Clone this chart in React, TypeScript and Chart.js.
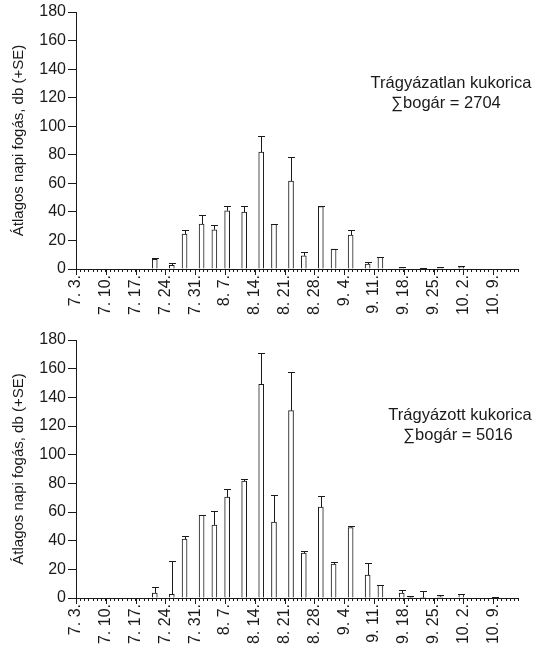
import React, { useEffect, useRef } from 'react';
import { Chart, registerables } from 'chart.js';
Chart.register(...registerables);

// Days counted from 7. 3. (day 0). Axis runs to day 104.
const tickDays = [0, 7, 14, 21, 28, 35, 42, 49, 56, 63, 70, 77, 84, 91, 98];
const tickLabels = ['7. 3.', '7. 10.', '7. 17.', '7. 24.', '7. 31.', '8. 7.', '8. 14.', '8. 21.', '8. 28.', '9. 4.', '9. 11.', '9. 18.', '9. 25.', '10. 2.', '10. 9.'];
const axisMaxDay = 104;
const yMax = 180;
const yStep = 20;
const yTitle = 'Átlagos napi fogás, db (+SE)';

// Trágyázatlan kukorica (top)
const topDays = [18, 22, 25, 29, 32, 35, 39, 43, 46, 50, 53, 57, 60, 64, 68, 71, 76, 81, 85, 90];
const topMeans = [6.8, 2.5, 24.5, 31.5, 27.5, 40.8, 39.9, 81.9, 31.2, 61.6, 9.3, 43.8, 14, 23.8, 3.5, 8.1, 1.1, 0.5, 1.0, 1.6];
const topSE = [0.7, 1.4, 2.8, 6.0, 3.0, 3.0, 3.9, 11.2, 0.3, 16.8, 2.6, 0.4, 0.3, 3.5, 1.1, 0.2, 0.3, 0.2, 0.2, 0.4];
const topName = 'Trágyázatlan kukorica';
const topSum = '∑bogár = 2704';

// Trágyázott kukorica (bottom)
const bottomDays = [18, 22, 25, 29, 32, 35, 39, 43, 46, 50, 53, 57, 60, 64, 68, 71, 76, 78, 81, 85, 90, 98];
const bottomMeans = [3.5, 2.5, 41.1, 57.6, 50.9, 70.4, 81.5, 149.1, 53, 130.7, 31.4, 63.4, 23.7, 49.2, 16.0, 8.8, 3.5, 0.5, 0.3, 0.9, 2.5, 0.5];
const bottomSE = [3.9, 23.3, 2.5, 0.4, 9.5, 5.3, 1.2, 21.6, 18.8, 27.2, 1.4, 7.7, 1.1, 0.7, 8.1, 0.2, 1.8, 0.9, 4.3, 0.9, 0.2, 0.2];
const bottomName = 'Trágyázott kukorica';
const bottomSum = '∑bogár = 5016';

const FONT = '"Liberation Sans", Arial, Helvetica, sans-serif';
const INK = '#1a1a1a';
Chart.defaults.font.family = FONT;

type PanelProps = {
  days: number[];
  means: number[];
  se: number[];
  name: string;
  sum: string;
  padTop: number;
  xHeight: number;
  nameX: number;
  nameY: number;
  sumX: number;
  sumY: number;
  top: number;
};

function Panel(p: PanelProps) {
  const ref = useRef<HTMLCanvasElement | null>(null);
  useEffect(() => {
    if (!ref.current) return;
    const errorBars = {
      id: 'errorBars',
      afterDatasetsDraw(chart: any) {
        const ctx = chart.ctx;
        const xs = chart.scales.x;
        const ys = chart.scales.y;
        ctx.save();
        ctx.strokeStyle = INK;
        ctx.lineWidth = 1;
        p.days.forEach((d, i) => {
          const x = Math.round(xs.getPixelForValue(d + 0.5)) + 0.5;
          const y0 = ys.getPixelForValue(p.means[i]);
          const y1 = Math.round(ys.getPixelForValue(p.means[i] + p.se[i])) + 0.5;
          ctx.beginPath();
          ctx.moveTo(x, y0);
          ctx.lineTo(x, y1);
          ctx.moveTo(x - 3.5, y1);
          ctx.lineTo(x + 3.5, y1);
          ctx.stroke();
        });
        // longer major ticks on the x axis
        const yb = chart.chartArea.bottom;
        tickDays.forEach((d) => {
          const x = Math.round(xs.getPixelForValue(d)) + 0.5;
          ctx.beginPath();
          ctx.moveTo(x, yb);
          ctx.lineTo(x, yb + 6);
          ctx.stroke();
        });
        ctx.restore();
      },
      afterDraw(chart: any) {
        const ctx = chart.ctx;
        ctx.save();
        ctx.fillStyle = INK;
        ctx.font = '16.5px ' + FONT;
        ctx.textAlign = 'center';
        ctx.textBaseline = 'middle';
        ctx.fillText(p.name, p.nameX, p.nameY);
        ctx.fillText(p.sum, p.sumX, p.sumY);
        ctx.restore();
      },
    };
    const chart = new Chart(ref.current, {
      type: 'bar',
      data: {
        datasets: [
          {
            data: p.days.map((d, i) => ({ x: d + 0.5, y: p.means[i] })),
            backgroundColor: '#ffffff',
            borderColor: INK,
            borderWidth: 1,
            barThickness: 5,
          },
        ],
      },
      options: {
        responsive: false,
        animation: false,
        layout: { padding: { top: p.padTop, right: 19, left: 0, bottom: 0 } },
        plugins: { legend: { display: false }, tooltip: { enabled: false } },
        scales: {
          x: {
            type: 'linear',
            min: 0,
            max: axisMaxDay,
            offset: false,
            afterBuildTicks: (s: any) => {
              const t = [];
              for (let v = 0; v <= axisMaxDay; v++) t.push({ value: v });
              s.ticks = t;
            },
            afterFit: (s: any) => {
              s.height = p.xHeight;
            },
            ticks: {
              autoSkip: false,
              minRotation: 90,
              maxRotation: 90,
              padding: 3,
              color: INK,
              font: { size: 16 },
              callback: (v: any) => {
                const i = tickDays.indexOf(Number(v));
                return i >= 0 ? tickLabels[i] : '';
              },
            },
            grid: { display: true, drawOnChartArea: false, drawTicks: true, tickLength: 3, color: INK, offset: false },
            border: { display: true, color: INK, width: 1 },
          },
          y: {
            type: 'linear',
            min: 0,
            max: yMax,
            afterFit: (s: any) => {
              s.width = 76;
            },
            ticks: { stepSize: yStep, padding: 2, color: INK, font: { size: 16 } },
            grid: { display: true, drawOnChartArea: false, drawTicks: true, tickLength: 8, color: INK },
            border: { display: true, color: INK, width: 1 },
            title: { display: true, text: yTitle, color: INK, font: { size: 15 }, padding: { top: 10, bottom: 0 } },
          },
        },
      },
      plugins: [errorBars],
    } as any);
    return () => chart.destroy();
  }, []);
  return (
    <canvas
      ref={ref}
      width={541}
      height={324}
      style={{ position: 'absolute', left: 0, top: p.top, width: 541, height: 324, display: 'block' }}
    />
  );
}

export default function App() {
  return (
    <div style={{ position: 'absolute', left: 0, top: 0, width: 541, height: 648, background: '#fff' }}>
      <Panel
        days={topDays}
        means={topMeans}
        se={topSE}
        name={topName}
        sum={topSum}
        padTop={12}
        xHeight={55}
        nameX={451}
        nameY={83}
        sumX={446}
        sumY={103}
        top={0}
      />
      <Panel
        days={bottomDays}
        means={bottomMeans}
        se={bottomSE}
        name={bottomName}
        sum={bottomSum}
        padTop={16}
        xHeight={50}
        nameX={460}
        nameY={91}
        sumX={458}
        sumY={111}
        top={324}
      />
    </div>
  );
}
